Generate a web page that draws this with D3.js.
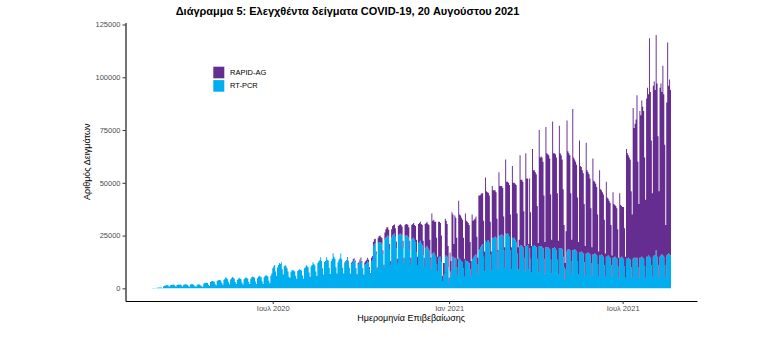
<!DOCTYPE html>
<html><head><meta charset="utf-8">
<script src="https://cdn.jsdelivr.net/npm/d3@7"></script>
<style>body{margin:0;background:#fff}svg{display:block}text{font-family:"Liberation Sans",Arial,sans-serif}</style>
</head><body><svg id="c" width="777" height="350"></svg>
<script>
const title = "Διάγραμμα 5: Ελεγχθέντα δείγματα COVID-19, 20 Αυγούστου 2021";
const xTitle = "Ημερομηνία Επιβεβαίωσης";
const yTitle = "Αριθμός Δειγμάτων";
const seriesNames = ["RAPID-AG", "RT-PCR"];
const seriesColors = ["#662d91", "#00aeef"];
const startDate = "2020-02-26";
const yTicks = [0, 25000, 50000, 75000, 100000, 125000];
const xTickDates = ["2020-07-01", "2021-01-01", "2021-07-01"];
const xTickLabels = ["Ιουλ 2020", "Ιαν 2021", "Ιουλ 2021"];

// daily RT-PCR samples, one week per line (first line Wed-Sun, last line Mon-Fri)
const rtPcr = [
100,150,200,150,80,
250,300,350,400,450,350,200,
900,1200,1400,1500,1600,1300,800,
1500,1600,1700,1700,1800,1400,900,
1600,1700,1800,1700,1800,1300,900,
1700,1800,1900,1800,1700,1200,800,
1800,1900,2000,1800,1500,1000,700,
1600,1800,1900,1700,1400,1000,800,
2200,2500,2600,2700,2500,1700,1100,
3000,3300,3500,3400,3200,2200,1500,
3500,3800,4000,3900,3600,2500,1700,
4000,4500,5200,4800,4300,3000,1900,
4200,4800,5400,5000,4500,3000,2000,
4000,4600,5000,4700,4300,2800,1800,
4300,4800,5200,4900,4500,3000,2000,
4600,5200,5600,5400,5000,3200,2100,
4800,5500,6000,5600,5200,3400,2200,
5200,5800,6300,6000,5600,3600,2400,
6000,7000,9500,10500,11000,8000,6000,
10000,11000,12000,11500,12400,9000,6500,
10500,11000,10500,9500,8000,5500,5000,
7800,8500,8700,8400,8000,6000,4500,
8200,8700,9000,8800,8500,6200,4600,
9500,10000,11000,10500,10000,7500,5500,
10500,11000,12400,11500,10800,8000,5800,
12000,12800,13300,14700,13000,9500,6500,
12500,13000,14700,13500,13200,9800,6800,
13000,14000,16600,15000,14000,10000,7000,
12400,13500,14200,16500,13800,9800,7000,
12000,12500,13000,14500,12800,9500,6800,
11500,12000,13000,13500,12500,9000,6500,
11000,11500,12500,13500,12000,8800,6200,
11000,11500,12000,13000,12200,9000,6500,
13000,13500,20000,21000,21500,16000,9000,
21500,22000,22000,21500,21000,16000,10000,
23000,24000,24500,25000,24000,18000,11000,
24000,25000,25500,26000,24500,19000,12000,
25000,25500,26000,25500,25000,19000,12000,
24500,25000,25000,24500,23500,18000,11500,
23000,23500,24000,23000,22000,17000,11000,
21500,22000,22500,21500,20500,15500,10000,
19000,19500,20000,19000,18000,14000,9000,
16000,16500,17000,16000,15000,11500,8000,
14500,15000,15000,12500,3500,6000,6500,
15000,15500,15000,10000,3000,8000,6000,
15000,15000,9000,14500,14000,10000,6000,
14500,13500,13500,13000,12500,9500,5500,
13500,13000,13000,12500,12000,9000,5500,
13500,14000,15000,15500,16000,11500,6500,
18000,18500,19500,20500,21000,15000,8000,
22500,22000,22500,22800,22000,16000,8500,
24000,23500,24000,24500,24000,17500,9000,
25000,24500,25000,25500,25000,18000,9500,
26000,25500,26000,25500,24500,18000,9000,
24000,23500,24000,23000,22000,16500,8500,
9000,20000,20500,20000,19500,14500,8000,
20000,20000,20500,9000,19000,14000,7500,
20000,20000,20500,20000,19500,14000,7500,
20000,20000,20000,19500,19000,14000,7000,
19500,19500,19500,19000,18500,13500,7000,
19000,19000,19500,19000,18000,13500,6500,
19000,19000,19000,18500,15000,10000,4000,
9000,17500,18500,18500,18000,13000,6500,
18000,18000,18500,18000,17500,13000,6500,
17000,17000,17500,17000,16500,12500,6000,
16500,16500,17000,16500,16000,12000,6000,
16000,16000,16500,16000,15500,11500,5500,
15500,15500,16000,15500,15000,11000,5500,
15000,15000,15500,15000,14500,11000,5500,
14500,14500,15000,14500,14000,10500,5000,
14500,14500,15000,14500,14000,10500,5000,
14000,14000,14500,14000,13500,10000,5000,
14000,14500,14500,14000,14500,10000,5000,
14500,14500,15000,14500,14000,10500,5000,
15000,15000,15500,15000,14500,11000,5200,
15000,15500,15500,18000,15000,11000,5200,
15000,15500,16000,15500,15000,11000,5000,
15500,16000,16500,16000,15500
];

// daily RAPID-AG samples, same layout
const rapidAg = [
0,0,0,0,0,
0,0,0,0,0,0,0,
0,0,0,0,0,0,0,
0,0,0,0,0,0,0,
0,0,0,0,0,0,0,
0,0,0,0,0,0,0,
0,0,0,0,0,0,0,
0,0,0,0,0,0,0,
0,0,0,0,0,0,0,
0,0,0,0,0,0,0,
0,0,0,0,0,0,0,
0,0,0,0,0,0,0,
0,0,0,0,0,0,0,
0,0,0,0,0,0,0,
0,0,0,0,0,0,0,
0,0,0,0,0,0,0,
0,0,0,0,0,0,0,
0,0,0,0,0,0,0,
0,0,0,0,0,0,0,
0,0,0,0,0,0,0,
0,0,0,0,0,0,0,
0,0,0,0,0,0,0,
0,0,0,0,0,0,0,
0,0,0,0,0,0,0,
0,0,0,0,0,0,0,
0,0,0,0,0,0,0,
0,0,0,0,0,0,0,
0,0,0,0,0,0,0,
0,0,0,0,0,0,0,
200,300,300,400,300,200,100,
600,800,900,800,700,500,300,
900,1100,1200,1100,1000,700,400,
1200,1500,1600,1500,1400,1000,600,
1500,1800,2000,2200,2000,1500,900,
2500,2800,3000,2800,2700,2000,1200,
3500,4000,4500,4000,3800,3000,2000,
4000,4500,4500,4200,4000,3200,2000,
4500,4500,4500,4500,4300,3500,2500,
5500,5500,5500,5500,5500,4500,3000,
7000,7000,7000,7000,7500,6000,4000,
9000,9000,9000,9000,9500,7000,4500,
11500,11500,11500,11500,12000,9000,5500,
19500,15500,15500,15500,16500,12500,7000,
17000,16500,16000,12500,2500,6000,5500,
18000,16500,15500,10000,2000,9000,7000,
21000,20000,12000,20000,19500,14000,8000,
27000,21500,21000,20500,20000,14500,8500,
22000,19000,18500,18500,18000,13000,7500,
21500,18000,17500,17500,18000,13000,8000,
26000,25500,25000,24500,24000,17000,9500,
30000,24000,23000,22500,22000,15500,9000,
24500,23000,22500,22000,21500,15500,9000,
30000,24000,23500,23000,22500,16000,10000,
35000,25000,24500,24500,24500,17000,10500,
34000,26500,26000,26500,27000,19000,11000,
14000,43000,31000,31500,31000,22000,12000,
44000,32000,31500,12000,33000,22000,12500,
46000,36000,35500,35000,34500,25000,14000,
55000,42000,42500,42500,41000,30000,15000,
57000,44500,44000,44000,43000,31000,16000,
60000,45000,44500,44500,44000,31500,16000,
58000,45000,44000,42500,32000,20000,8000,
18000,62000,46500,45500,45000,32000,16500,
67000,44000,42500,42000,41000,30000,15500,
53000,41000,40000,39000,38000,27500,14000,
52500,39500,38000,37500,36000,26000,13500,
45500,35000,34000,33500,32500,23500,12000,
40500,31500,30500,30000,29500,21500,11000,
35500,28000,27000,26500,26000,19000,10000,
31000,25500,24500,24500,24000,17500,9500,
30500,25000,24000,24000,24500,18000,10000,
52000,50000,48500,48000,47500,36000,30000,
71500,61500,63500,66000,77000,50000,35000,
69500,67500,74000,71500,70000,51500,37000,
75000,80000,76500,103500,78500,59000,39800,
81000,82500,78500,102000,82000,61000,40800,
80000,81500,77000,90000,77000,57000,25000,
72500,100500,79500,83000,78500
];

const svg = d3.select("#c");
const m = {left: 125.5, right: 697, top: 22.4, bottom: 301};
const DAY = 864e5;
const t0 = Date.parse(startDate);
const n = rtPcr.length;
const data = rtPcr.map((p, i) => ({date: new Date(t0 + i * DAY), pcr: p, rapid: rapidAg[i] || 0}));

const first = t0 - 0.5 * DAY, last = t0 + (n - 0.5) * DAY, span = last - first;
const x = d3.scaleUtc().domain([first - 0.05 * span, last + 0.05 * span]).range([m.left, m.right]);
const ymax = d3.max(data, d => d.pcr + d.rapid);
const y = d3.scaleLinear().domain([-0.05 * ymax, 1.05 * ymax]).range([m.bottom, m.top]);

const stack = d3.stack().keys(["pcr", "rapid"])(data);
const colorOf = {pcr: seriesColors[1], rapid: seriesColors[0]};
const bw = x(new Date(t0 + DAY)) - x(new Date(t0));

// each series: all its daily bars as one compound path (bar = rect subpath)
svg.append("g").selectAll("path").data(stack).join("path")
  .attr("fill", s => colorOf[s.key])
  .attr("d", s => {
    const p = d3.path();
    s.forEach(d => {
      const h = y(d[0]) - y(d[1]);
      if (h > 0) p.rect(x(d.data.date) - bw / 2, y(d[1]), bw, h);
    });
    return p.toString();
  });

// axes
const yAxis = svg.append("g").attr("transform", `translate(${m.left},0)`)
  .call(d3.axisLeft(y).tickValues(yTicks).tickFormat(d3.format("d")).tickSize(3).tickSizeOuter(0));
const xAxis = svg.append("g").attr("transform", `translate(0,${m.bottom})`)
  .call(d3.axisBottom(x).tickValues(xTickDates.map(s => new Date(Date.parse(s))))
    .tickFormat((d, i) => xTickLabels[i]).tickSize(3).tickSizeOuter(0));
[yAxis, xAxis].forEach(a => {
  a.select(".domain").attr("stroke", "#000").attr("stroke-width", 1.1);
  a.selectAll(".tick line").attr("stroke", "#333").attr("stroke-width", 1);
  a.selectAll(".tick text").attr("fill", "#4d4d4d").style("font-size", "7.5px")
   .style("font-family", '"Liberation Sans", Arial, sans-serif');
});
yAxis.selectAll(".tick text").attr("x", -5);
xAxis.selectAll(".tick text").attr("y", 5);

// titles
svg.append("text").attr("x", 347.5).attr("y", 14.5).attr("text-anchor", "middle")
  .style("font-size", "11px").style("font-weight", "bold").attr("fill", "#000").text(title);
svg.append("text").attr("x", (m.left + m.right) / 2).attr("y", 321).attr("text-anchor", "middle")
  .style("font-size", "9px").attr("fill", "#000").text(xTitle);
svg.append("text").attr("transform", `translate(89.5,${(m.top + m.bottom) / 2}) rotate(-90)`)
  .attr("text-anchor", "middle").style("font-size", "9px").attr("fill", "#000").text(yTitle);

// legend
const lg = svg.append("g").attr("transform", "translate(213.3,66.7)");
seriesNames.forEach((name, i) => {
  lg.append("rect").attr("x", 0).attr("y", i * 13.4).attr("width", 11).attr("height", 11.6).attr("fill", seriesColors[i]);
  lg.append("text").attr("x", 16.7).attr("y", i * 13.4 + 5.8).attr("dominant-baseline", "central")
    .style("font-size", "7.5px").attr("fill", "#000").text(name);
});
</script>
</body></html>
